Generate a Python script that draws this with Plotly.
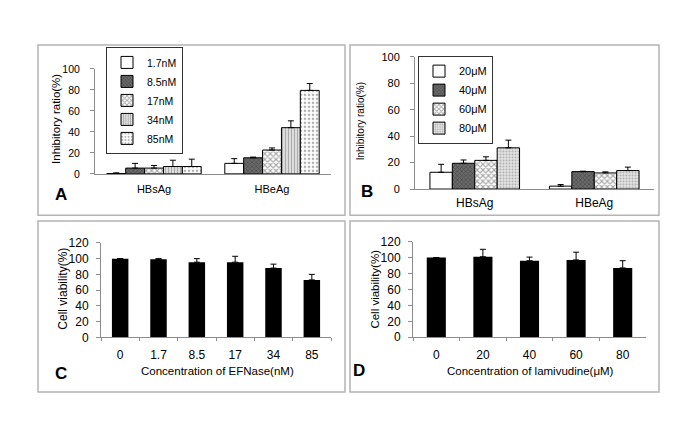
import plotly.graph_objects as go

W, H = 685, 424

# ---------------- data ----------------
antigens = ["HBsAg", "HBeAg"]

efn_labels = ["1.7nM", "8.5nM", "17nM", "34nM", "85nM"]
efn_vals = [[0.3, 10], [5.5, 15.3], [5.5, 22.7], [7, 44], [7, 79.5]]
efn_errs = [[0.7, 4.5], [4.5, 0.7], [2.5, 2], [6, 6.5], [7, 6.5]]

lam_labels = ["20μM", "40μM", "60μM", "80μM"]
lam_vals = [[12.7, 2.2], [19.5, 13.2], [21.7, 12.2], [31.2, 14]]
lam_errs = [[6, 1.2], [2.5, 0.3], [2.7, 0.8], [5.8, 2.6]]

efn_conc = ["0", "1.7", "8.5", "17", "34", "85"]
efn_viab = [100, 99.2, 95.5, 95.5, 88, 73]
efn_viab_err = [0, 0.8, 4.5, 7.5, 5, 7]

lam_conc = ["0", "20", "40", "60", "80"]
lam_viab = [100, 101, 96, 97, 87]
lam_viab_err = [0, 9.3, 4.5, 9.7, 9]

# ---------------- styles ----------------
FONT = "Liberation Sans, Arial, sans-serif"
AXC = "#8c8c8c"

pat_A = [
    dict(color="white", pattern=dict(shape="")),
    dict(color="#6a6a6a", pattern=dict(shape="x", fgcolor="#2a2a2a", size=3, solidity=0.4)),
    dict(color="#ffffff", pattern=dict(shape="x", fgcolor="#555555", size=4, solidity=0.5)),
    dict(color="#dcdcdc", pattern=dict(shape="|", fgcolor="#7a7a7a", size=3, solidity=0.35)),
    dict(color="#ffffff", pattern=dict(shape=".", fgcolor="#666666", size=4, solidity=0.35)),
]
pat_B = [
    dict(color="white", pattern=dict(shape="")),
    dict(color="#6a6a6a", pattern=dict(shape="x", fgcolor="#2a2a2a", size=3, solidity=0.4)),
    dict(color="#ffffff", pattern=dict(shape="x", fgcolor="#555555", size=4, solidity=0.5)),
    dict(color="#e6e6e6", pattern=dict(shape=".", fgcolor="#777777", size=3, solidity=0.4)),
]


def err(arr):
    return dict(type="data", array=arr, arrayminus=[0] * len(arr), symmetric=False,
                color="black", thickness=1, width=3)


fig = go.Figure()

# Panel A
nA = len(efn_labels)
wA = 0.8 / nA
for i, (lab, v, e) in enumerate(zip(efn_labels, efn_vals, efn_errs)):
    m = dict(pat_A[i])
    m["line"] = dict(color="black", width=1)
    fig.add_trace(go.Bar(x=antigens, y=v, name=lab, marker=m, error_y=err(e),
                         width=wA, offset=-0.4 + i * wA,
                         xaxis="x", yaxis="y", legend="legend"))

# Panel B
nB = len(lam_labels)
wB = 0.75 / nB
for i, (lab, v, e) in enumerate(zip(lam_labels, lam_vals, lam_errs)):
    m = dict(pat_B[i])
    m["line"] = dict(color="black", width=1)
    fig.add_trace(go.Bar(x=antigens, y=v, name=lab, marker=m, error_y=err(e),
                         width=wB, offset=-0.375 + i * wB,
                         xaxis="x2", yaxis="y2", legend="legend2"))

# Panel C
fig.add_trace(go.Bar(x=efn_conc, y=efn_viab, marker=dict(color="black", line=dict(width=0)),
                     error_y=err(efn_viab_err), width=0.43, showlegend=False,
                     xaxis="x3", yaxis="y3"))
# Panel D
fig.add_trace(go.Bar(x=lam_conc, y=lam_viab, marker=dict(color="black", line=dict(width=0)),
                     error_y=err(lam_viab_err), width=0.41, showlegend=False,
                     xaxis="x4", yaxis="y4"))


def px_x(p):
    return p / W


def px_y(p):
    return 1 - p / H


def xax(domain, anchor, size, standoff, ticks=False):
    d = dict(domain=domain, anchor=anchor, showline=True, linecolor=AXC, linewidth=1,
             showgrid=False, zeroline=False, tickfont=dict(size=size, color="black"),
             ticklabelstandoff=standoff, type="category", fixedrange=True)
    if ticks:
        d.update(ticks="outside", tickson="boundaries", ticklen=3, tickcolor=AXC)
    else:
        d.update(ticks="")
    return d


def yax(domain, anchor, rng, dtick, size, standoff):
    return dict(domain=domain, anchor=anchor, range=rng, dtick=dtick, showline=True,
                linecolor=AXC, linewidth=1, showgrid=False, zeroline=False,
                ticks="outside", ticklen=4, tickcolor=AXC,
                tickfont=dict(size=size, color="black"), ticklabelstandoff=standoff,
                fixedrange=True)


layout = dict(
    width=W, height=H, margin=dict(l=0, r=0, t=0, b=0),
    paper_bgcolor="white", plot_bgcolor="white",
    font=dict(family=FONT, color="black"),
    barmode="group",
    xaxis=xax([px_x(87), px_x(323)], "y", 11, 5),
    yaxis=yax([px_y(164.3), px_y(55.7)], "x", [0, 100], 20, 10.5, 8),
    xaxis2=xax([px_x(407), px_x(646)], "y2", 12, 3),
    yaxis2=yax([px_y(180), px_y(43.3)], "x2", [0, 100], 20, 11, 8),
    xaxis3=xax([px_x(93), px_x(323)], "y3", 12, 6, ticks=True),
    yaxis3=yax([px_y(333.3), px_y(235.7)], "x3", [0, 120], 20, 12, 5),
    xaxis4=xax([px_x(405), px_x(638)], "y4", 12, 6, ticks=True),
    yaxis4=yax([px_y(333.3), px_y(234.3)], "x4", [0, 120], 20, 12, 5),
    legend=dict(x=px_x(98), y=px_y(33), xanchor="left", yanchor="top",
                bordercolor="#333333", borderwidth=1, bgcolor="white",
                font=dict(size=10.5), itemwidth=30, tracegroupgap=0),
    legend2=dict(x=px_x(410), y=px_y(42), xanchor="left", yanchor="top",
                 bordercolor="#333333", borderwidth=1, bgcolor="white",
                 font=dict(size=11), itemwidth=30, tracegroupgap=0),
)

# panel frames
shapes = []
for (x0, y0, x1, y1) in [(30, 31, 337, 207), (342, 31, 651, 207),
                         (30, 213, 337, 390), (342, 213, 651, 390)]:
    shapes.append(dict(type="rect", xref="paper", yref="paper",
                       x0=px_x(x0), x1=px_x(x1), y0=px_y(y1), y1=px_y(y0),
                       line=dict(color="#b4b4b4", width=1.5), fillcolor="rgba(0,0,0,0)"))
layout["shapes"] = shapes


def ann(text, x, y, size, bold=False, angle=0):
    return dict(text=("<b>%s</b>" % text) if bold else text, x=px_x(x), y=px_y(y),
                xref="paper", yref="paper", xanchor="center", yanchor="middle",
                showarrow=False, textangle=angle, font=dict(size=size, color="black"))


layout["annotations"] = [
    ann("A", 53, 186, 17, bold=True),
    ann("B", 359, 183, 17, bold=True),
    ann("C", 53, 371, 17, bold=True),
    ann("D", 351, 368, 17, bold=True),
    ann("Inhibitory ratio(%)", 48.5, 108, 11.5, angle=-90),
    ann("Inhibitory ratio(%)", 352, 110, 10, angle=-90),
    ann("Cell viability(%)", 55, 283, 12, angle=-90),
    ann("Cell viability(%)", 367, 284, 11.5, angle=-90),
    ann("Concentration of EFNase(nM)", 209, 368, 11.5),
    ann("Concentration of lamivudine(μM)", 522, 368, 11.5),
]

fig.update_layout(**layout)
fig.write_html("out.html")
